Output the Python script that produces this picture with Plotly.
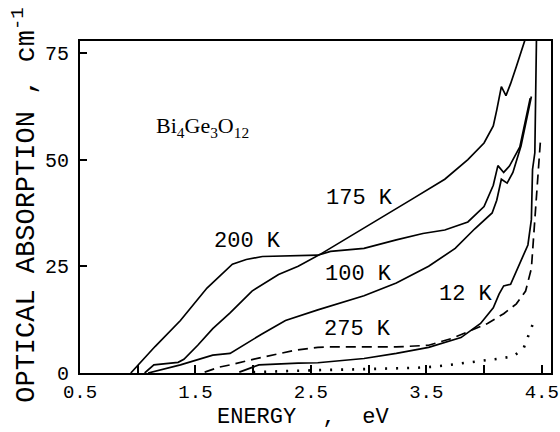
import plotly.graph_objects as go

# ---- data ----
x_175 = [1.06, 1.14, 1.35, 1.40, 1.52, 1.65, 1.80, 1.99, 2.22, 2.39, 2.58, 2.81, 3.09, 3.38,
         3.66, 3.86, 4.00, 4.08, 4.11, 4.14, 4.15, 4.19, 4.23, 4.28, 4.36]
y_175 = [0, 1.9, 2.5, 3.2, 6.5, 10.4, 14.1, 19.2, 23.1, 25.0, 27.8, 31.5, 36.1, 40.8,
         45.4, 50.0, 53.9, 57.9, 61.6, 66.0, 67.1, 65.0, 67.8, 71.8, 78.5]

x_200 = [0.94, 1.15, 1.37, 1.60, 1.82, 1.94, 2.08, 2.30, 2.56, 2.67, 2.96, 3.24, 3.47,
         3.66, 3.86, 4.00, 4.08, 4.12, 4.17, 4.22, 4.31, 4.40]
y_200 = [0, 6.2, 12.3, 19.9, 25.5, 26.6, 27.3, 27.5, 27.6, 28.5, 29.2, 31.2, 32.7,
         33.5, 35.4, 39.0, 44.0, 48.6, 47.0, 48.5, 53.0, 64.4]

x_100 = [1.09, 1.20, 1.37, 1.65, 1.80, 2.08, 2.28, 2.56, 2.67, 2.96, 3.24, 3.52, 3.75,
         3.92, 4.07, 4.11, 4.15, 4.20, 4.25, 4.32, 4.41]
y_100 = [0, 0.7, 1.9, 4.2, 4.6, 9.2, 12.3, 14.8, 15.7, 18.1, 21.1, 25.0, 29.2,
         33.8, 37.5, 40.5, 45.4, 44.5, 47.0, 53.2, 64.8]

x_275 = [1.58, 1.71, 1.80, 2.08, 2.36, 2.56, 2.67, 2.96, 3.24, 3.52, 3.72, 3.89, 4.03,
         4.17, 4.28, 4.36, 4.41, 4.44, 4.47, 4.49]
y_275 = [0.2, 1.4, 1.9, 3.7, 5.3, 6.0, 6.1, 6.1, 6.1, 6.5, 8.1, 10.0, 11.6,
         13.9, 16.2, 19.2, 24.5, 36.0, 49.0, 55.0]

x_12 = [1.88, 2.05, 2.39, 2.56, 2.96, 3.24, 3.52, 3.80, 3.97, 4.08, 4.13, 4.17, 4.23,
        4.31, 4.38, 4.41, 4.42, 4.44, 4.455]
y_12 = [0.2, 1.9, 2.3, 2.4, 3.4, 4.6, 6.0, 8.3, 11.6, 15.3, 18.5, 20.4, 20.8,
        25.5, 30.0, 36.0, 47.7, 51.6, 80.0]

x_dot = [2.0, 2.2, 2.4, 2.6, 2.8, 3.0, 3.2, 3.4, 3.58, 3.69, 3.77, 3.89, 4.02, 4.14,
         4.25, 4.34, 4.42]
y_dot = [0.2, 0.4, 0.6, 0.7, 0.8, 0.9, 1.0, 1.2, 1.5, 1.85, 2.2, 2.5, 2.85, 3.4,
         3.9, 5.6, 11.3]

x_tickvals = [0.5, 1.0, 1.5, 2.0, 2.5, 3.0, 3.5, 4.0, 4.5]
x_ticktext = ["0.5", "", "1.5", "", "2.5", "", "3.5", "", "4.5"]
y_tickvals = [0, 25, 50, 75]
y_ticktext = ["0", "25", "50", "75"]

curve_labels = ["175 K", "200 K", "100 K", "12 K", "275 K"]
label_x = [2.92, 1.95, 2.91, 3.84, 2.90]
label_y = [41.0, 30.9, 23.2, 18.3, 10.1]

MONO = "Liberation Mono"
LW = 1.7

fig = go.Figure()
for xs, ys, dash in [(x_175, y_175, "solid"), (x_200, y_200, "solid"), (x_100, y_100, "solid"),
                     (x_12, y_12, "solid"), (x_275, y_275, "10px,6px")]:
    fig.add_trace(go.Scatter(x=xs, y=ys, mode="lines",
                             line=dict(color="black", width=LW, dash=dash),
                             showlegend=False, hoverinfo="skip"))
fig.add_trace(go.Scatter(x=x_dot, y=y_dot, mode="lines",
                         line=dict(color="black", width=2.6, dash="2px,9px"),
                         showlegend=False, hoverinfo="skip"))

for t, xx, yy in zip(curve_labels, label_x, label_y):
    fig.add_annotation(x=xx, y=yy, text=t, showarrow=False,
                       xanchor="center", yanchor="middle",
                       font=dict(family=MONO, size=22, color="black"))

fig.add_annotation(x=1.565, y=57.7, text="Bi<sub>4</sub>Ge<sub>3</sub>O<sub>12</sub>",
                   showarrow=False, xanchor="center", yanchor="middle",
                   font=dict(family="Liberation Serif", size=22, color="black"))

# axis titles
fig.add_annotation(xref="paper", yref="paper", x=0.474, y=-0.1355,
                   xanchor="center", yanchor="middle",
                   text="ENERGY  ,  eV", showarrow=False,
                   font=dict(family=MONO, size=22, color="black"))
fig.add_annotation(xref="paper", yref="paper", x=-0.118, y=0.505,
                   xanchor="center", yanchor="middle",
                   text="OPTICAL ABSORPTION , cm<sup>-1</sup>", textangle=-90,
                   showarrow=False, font=dict(family=MONO, size=27, color="black"))

fig.update_layout(
    width=560, height=432,
    margin=dict(l=80, r=1, t=41, b=59),
    paper_bgcolor="white", plot_bgcolor="white",
    xaxis=dict(range=[0.5, 4.58], tickvals=x_tickvals, ticktext=x_ticktext,
               ticks="inside", ticklen=8, tickwidth=1.5, tickcolor="black",
               showline=True, linecolor="black", linewidth=2, mirror=True,
               showgrid=False, zeroline=False, ticklabelstandoff=0,
               ticklabeloverflow="allow",
               tickfont=dict(family=MONO, size=19, color="black")),
    yaxis=dict(range=[0, 77.8], tickvals=y_tickvals, ticktext=y_ticktext,
               ticks="inside", ticklen=7, tickwidth=1.5, tickcolor="black",
               showline=True, linecolor="black", linewidth=2, mirror=True,
               showgrid=False, zeroline=False, ticklabelstandoff=5,
               tickfont=dict(family=MONO, size=20, color="black")),
)

fig.write_html("out.html")
